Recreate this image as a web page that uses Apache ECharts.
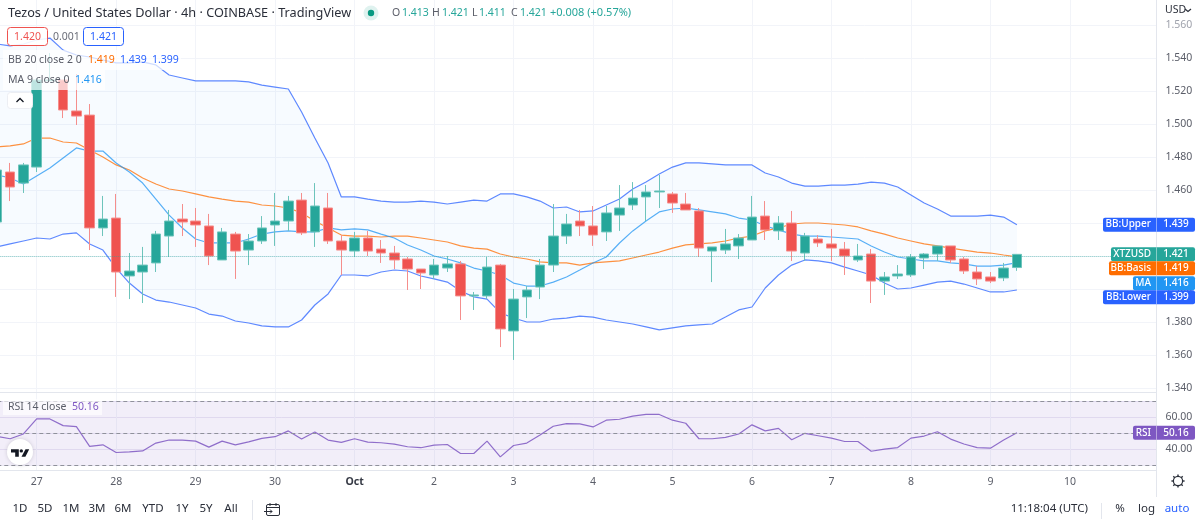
<!DOCTYPE html>
<html>
<head>
<meta charset="utf-8">
<style>html,body{margin:0;padding:0;background:#fff;overflow:hidden;width:1200px;height:524px;position:relative}#c{position:absolute;left:-10px;top:0;width:1210px;height:524px}</style>
<script src="https://cdn.jsdelivr.net/npm/echarts@6/dist/echarts.min.js"></script>
</head>
<body>
<div id="c"></div>
<script>
const dayNames = ['26','27','28','29','30','Oct','2','3','4','5','6','7','8','9','10','11'];
const barCount = 88;
const priceTicks = { min: 1.34, max: 1.56, step: 0.02 };
const opens = [1.4406,1.4709,1.4642,1.4739,1.5262,1.5267,1.5079,1.5054,1.4370,1.4430,1.4079,1.4103,1.4158,1.4321,1.4424,1.4412,1.4382,1.4176,1.4333,1.4236,1.4291,1.4388,1.4412,1.4539,1.4346,1.4491,1.4291,1.4230,1.4309,1.4242,1.4218,1.4182,1.4121,1.4085,1.4127,1.4152,1.3958,1.3958,1.4145,1.3746,1.3952,1.4012,1.4145,1.4321,1.4412,1.4382,1.4346,1.4448,1.4509,1.4558,1.4588,1.4576,1.4515,1.4473,1.4230,1.4236,1.4261,1.4297,1.4442,1.4352,1.4400,1.4218,1.4303,1.4273,1.4242,1.4176,1.4212,1.4048,1.4079,1.4085,1.4188,1.4212,1.4261,1.4182,1.4103,1.4073,1.4067,1.4130];
const closes = [1.4721,1.4618,1.4752,1.5267,1.5267,1.5085,1.5048,1.4370,1.4424,1.4103,1.4109,1.4145,1.4333,1.4412,1.4406,1.4388,1.4200,1.4346,1.4230,1.4291,1.4370,1.4412,1.4533,1.4340,1.4503,1.4291,1.4236,1.4309,1.4230,1.4218,1.4176,1.4121,1.4097,1.4145,1.4152,1.3958,1.3964,1.4133,1.3758,1.3939,1.3994,1.4145,1.4321,1.4394,1.4382,1.4327,1.4461,1.4491,1.4551,1.4588,1.4594,1.4521,1.4479,1.4248,1.4255,1.4273,1.4309,1.4436,1.4358,1.4400,1.4230,1.4321,1.4279,1.4248,1.4200,1.4200,1.4048,1.4073,1.4091,1.4194,1.4212,1.4261,1.4176,1.4109,1.4061,1.4048,1.4127,1.4210];
const lows = [1.4358,1.4533,1.4582,1.4709,1.5262,1.5036,1.4994,1.4236,1.4321,1.3952,1.3939,1.3915,1.4103,1.4194,1.4321,1.4255,1.4145,1.4176,1.4061,1.4145,1.4273,1.4261,1.4352,1.4327,1.4255,1.4273,1.4085,1.4194,1.4200,1.4158,1.4121,1.3994,1.4000,1.4061,1.4103,1.3812,1.3873,1.3939,1.3648,1.3570,1.3824,1.3939,1.4103,1.4273,1.4321,1.4261,1.4291,1.4352,1.4479,1.4412,1.4491,1.4461,1.4479,1.4194,1.4042,1.4212,1.4182,1.4297,1.4297,1.4297,1.4170,1.4170,1.4255,1.4170,1.4085,1.4164,1.3915,1.3964,1.4061,1.4073,1.4121,1.4170,1.4158,1.4091,1.4024,1.4036,1.4048,1.4110];
const highs = [1.4752,1.4764,1.4764,1.5279,1.5430,1.5267,1.5303,1.5121,1.4564,1.4576,1.4218,1.4255,1.4352,1.4479,1.4515,1.4491,1.4455,1.4370,1.4346,1.4333,1.4442,1.4582,1.4564,1.4582,1.4642,1.4582,1.4327,1.4346,1.4352,1.4297,1.4261,1.4194,1.4121,1.4182,1.4200,1.4170,1.3982,1.4194,1.4152,1.4000,1.4018,1.4182,1.4515,1.4455,1.4479,1.4503,1.4503,1.4630,1.4648,1.4630,1.4691,1.4588,1.4582,1.4491,1.4255,1.4364,1.4333,1.4564,1.4533,1.4442,1.4473,1.4340,1.4327,1.4364,1.4285,1.4273,1.4242,1.4103,1.4145,1.4212,1.4218,1.4261,1.4261,1.4194,1.4139,1.4103,1.4158,1.4210];
const bbUpper = [1.5485,1.5473,1.5485,1.5509,1.5521,1.5448,1.5418,1.5406,1.5388,1.5370,1.5370,1.5376,1.5358,1.5297,1.5279,1.5261,1.5261,1.5261,1.5261,1.5255,1.5236,1.5224,1.5212,1.5073,1.4915,1.4764,1.4558,1.4558,1.4545,1.4533,1.4527,1.4527,1.4533,1.4527,1.4515,1.4527,1.4539,1.4533,1.4576,1.4576,1.4558,1.4533,1.4491,1.4497,1.4467,1.4473,1.4509,1.4545,1.4606,1.4648,1.4697,1.4739,1.4764,1.4764,1.4758,1.4752,1.4752,1.4752,1.4703,1.4679,1.4642,1.4624,1.4624,1.4630,1.4630,1.4636,1.4648,1.4642,1.4618,1.4570,1.4521,1.4485,1.4442,1.4442,1.4442,1.4448,1.4436,1.4390];
const bbBasis = [1.4861,1.4867,1.4879,1.4915,1.4915,1.4891,1.4885,1.4842,1.4800,1.4752,1.4721,1.4673,1.4636,1.4606,1.4594,1.4576,1.4558,1.4545,1.4533,1.4527,1.4509,1.4503,1.4491,1.4461,1.4412,1.4370,1.4327,1.4321,1.4321,1.4315,1.4321,1.4321,1.4309,1.4297,1.4285,1.4261,1.4248,1.4242,1.4212,1.4194,1.4182,1.4164,1.4158,1.4158,1.4145,1.4158,1.4164,1.4170,1.4188,1.4206,1.4224,1.4248,1.4267,1.4273,1.4279,1.4291,1.4309,1.4321,1.4352,1.4370,1.4394,1.4400,1.4400,1.4394,1.4388,1.4376,1.4352,1.4333,1.4309,1.4291,1.4273,1.4261,1.4248,1.4236,1.4224,1.4218,1.4206,1.4195];
const bbLower = [1.4255,1.4273,1.4291,1.4309,1.4303,1.4333,1.4340,1.4273,1.4236,1.4127,1.4036,1.3970,1.3933,1.3921,1.3903,1.3885,1.3848,1.3836,1.3806,1.3794,1.3776,1.3770,1.3770,1.3812,1.3903,1.3970,1.4085,1.4085,1.4079,1.4103,1.4115,1.4109,1.4079,1.4061,1.4042,1.3988,1.3952,1.3939,1.3855,1.3824,1.3800,1.3800,1.3818,1.3824,1.3836,1.3830,1.3812,1.3800,1.3788,1.3770,1.3752,1.3764,1.3776,1.3782,1.3788,1.3830,1.3873,1.3891,1.4006,1.4085,1.4145,1.4176,1.4170,1.4158,1.4133,1.4109,1.4085,1.4036,1.4000,1.4006,1.4024,1.4042,1.4048,1.4030,1.4006,1.3982,1.3982,1.3994];
const maLine = [1.4691,1.4673,1.4636,1.4685,1.4733,1.4794,1.4855,1.4836,1.4836,1.4764,1.4709,1.4642,1.4545,1.4448,1.4370,1.4303,1.4279,1.4279,1.4279,1.4303,1.4333,1.4346,1.4352,1.4346,1.4346,1.4370,1.4358,1.4364,1.4358,1.4333,1.4309,1.4267,1.4236,1.4200,1.4182,1.4158,1.4127,1.4109,1.4085,1.4036,1.4018,1.4018,1.4042,1.4073,1.4115,1.4158,1.4194,1.4279,1.4352,1.4412,1.4467,1.4485,1.4491,1.4479,1.4467,1.4455,1.4430,1.4418,1.4382,1.4358,1.4333,1.4321,1.4321,1.4315,1.4309,1.4303,1.4261,1.4224,1.4194,1.4182,1.4170,1.4170,1.4158,1.4152,1.4139,1.4139,1.4145,1.4160];
const rsiLine = [47.9,46.4,49.4,58.8,58.8,54.6,54.0,41.6,42.6,37.8,38.2,38.8,43.7,45.6,45.6,44.9,41.2,44.9,42.6,44.5,46.6,47.7,51.3,46.2,50.6,45.6,44.1,46.4,44.3,43.9,43.1,41.4,40.8,42.4,42.8,37.2,37.2,44.9,35.1,42.2,43.7,48.7,54.2,55.9,55.7,53.8,58.0,58.6,60.5,61.6,61.6,58.0,56.1,46.4,46.4,47.3,49.4,55.1,51.3,52.9,45.8,49.8,48.3,46.8,44.7,44.7,38.6,39.9,40.9,46.8,48.1,50.8,46.2,43.1,40.9,40.5,45.6,50.16];
const lastValues = { price: 1.421, basis: 1.419, upper: 1.439, lower: 1.399, ma: 1.416, rsi: 50.16 };
const rangeButtons = ['1D','5D','1M','3M','6M','YTD','1Y','5Y','All'];

const FONT = '"Noto Sans", sans-serif';
const TEAL='#26a69a', RED='#ef5350', BLUE='#2962ff', ORANGE='#ff6d00', SKY='#2196f3', PURPLE='#7e57c2';
const GRAY='#5a5d68', GRID='#f2f4f9', SEP='#e3e6ed';

const categories = [];
for (let i=0;i<barCount;i++){
  const total = 12 + 4*i;
  categories.push(dayNames[Math.floor(total/24)] + ' ' + (total%24));
}
const isDay = i => i>=3 && i<=81 && (i-3)%6===0;
const candles = opens.map((o,i)=>[o,closes[i],lows[i],highs[i]]);
const bandHeight = bbUpper.map((u,i)=>+(u-bbLower[i]).toFixed(4));

const line = (name,data,color,extra)=>Object.assign({
  type:'line',name,data,xAxisIndex:0,yAxisIndex:0,symbol:'none',silent:true,z:3,
  lineStyle:{color,width:1.2,opacity:.75}
},extra||{});

const chart = echarts.init(document.getElementById('c'),null,{renderer:'canvas'});
// the chart box starts 10px left of the page so that the first bar can be cut by the page edge
const grids = {left:0.3,right:44};
chart.setOption({
  animation:false,
  backgroundColor:'#fff',
  textStyle:{fontFamily:FONT},
  grid:[
    Object.assign({top:25,height:363},grids),
    Object.assign({top:401,height:64},grids),
    Object.assign({top:0,height:470.5},grids)
  ],
  xAxis:[
    {gridIndex:0,type:'category',data:categories,show:false},
    {gridIndex:1,type:'category',data:categories,show:false},
    {gridIndex:2,type:'category',data:categories,
      axisLine:{show:false},axisTick:{show:false},
      splitLine:{show:true,alignWithLabel:true,interval:i=>isDay(i),lineStyle:{color:GRID,width:1}},
      axisLabel:{interval:i=>isDay(i),margin:6,fontSize:10.5,fontFamily:FONT,color:GRAY,
        formatter:v=>{const d=v.split(' ')[0];return d==='Oct'?'{b|Oct}':d;},
        rich:{b:{fontWeight:'bold',fontSize:10.5,color:'#363a45',fontFamily:FONT}}}}
  ],
  yAxis:[
    {gridIndex:0,type:'value',position:'right',min:priceTicks.min,max:priceTicks.max,interval:priceTicks.step,
      axisLine:{show:false},axisTick:{show:false},
      splitLine:{show:true,lineStyle:{color:GRID,width:1}},
      axisLabel:{margin:9.5,fontSize:10.5,fontFamily:FONT,
        color:v=>v>1.55?'#a0a3ad':GRAY,formatter:v=>v.toFixed(3)}},
    {gridIndex:1,type:'value',position:'right',min:30,max:70,interval:10,
      axisLine:{show:false},axisTick:{show:false},
      splitLine:{show:true,lineStyle:{color:'#ebe8f4',width:1}},
      axisLabel:{margin:9.5,fontSize:10.5,fontFamily:FONT,color:GRAY,
        formatter:v=>(v===40||v===60)?v.toFixed(2):''}},
    {gridIndex:2,type:'value',min:0,max:1,show:false}
  ],
  series:[
    {type:'line',name:'band base',data:bbLower,stack:'bb',symbol:'none',silent:true,z:2,lineStyle:{opacity:0}},
    {type:'line',name:'band fill',data:bandHeight,stack:'bb',symbol:'none',silent:true,z:2,lineStyle:{opacity:0},
      areaStyle:{color:'rgba(33,150,243,0.05)',origin:'auto'}},
    line('BB:Upper',bbUpper,BLUE),
    line('BB:Lower',bbLower,BLUE),
    line('BB:Basis',bbBasis,ORANGE),
    line('MA',maLine,SKY),
    {type:'candlestick',name:'XTZUSD',data:candles,xAxisIndex:0,yAxisIndex:0,barWidth:10,z:4,silent:true,
      itemStyle:{color:TEAL,color0:RED,borderColor:'#6dc4bb',borderColor0:'#f58e8c',borderWidth:1},
      markLine:{silent:true,symbol:'none',animation:false,label:{show:false},
        lineStyle:{color:TEAL,type:'dotted',width:1,opacity:.55},data:[{yAxis:lastValues.price}]}},
    {type:'line',name:'RSI',data:rsiLine,xAxisIndex:1,yAxisIndex:1,symbol:'none',silent:true,z:3,
      lineStyle:{color:PURPLE,width:1.2,opacity:.85},
      markArea:{silent:true,itemStyle:{color:'rgba(126,87,194,0.1)'},data:[[{yAxis:70},{yAxis:30}]]},
      markLine:{silent:true,symbol:'none',animation:false,label:{show:false},
        lineStyle:{color:'#8f919b',type:[4,3],width:1},data:[{yAxis:70},{yAxis:50},{yAxis:30}]}}
  ]
});

// overlay text and chrome
const Z=50;
const SMALL='10.5px '+FONT;
const T=(text,x,y,o)=>({type:'text',z:Z+2,silent:true,style:Object.assign({
  text,x,y,fill:GRAY,font:SMALL,textAlign:'left',textVerticalAlign:'middle'},o||{})});
const R=(x,y,w,h,fill,o)=>({type:'rect',z:Z,silent:true,shape:Object.assign({x,y,width:w,height:h},(o&&o.shape)||{}),
  style:Object.assign({fill},(o&&o.style)||{})});
const L=(x1,y1,x2,y2,color,w,z)=>({type:'line',z:z||Z-5,silent:true,shape:{x1,y1,x2,y2},style:{stroke:color,lineWidth:w||1}});
const P=(pts,stroke,w)=>({type:'polyline',z:Z+2,silent:true,shape:{points:pts},style:{stroke,lineWidth:w||1,fill:'none'}});
const yOf=v=>chart.convertToPixel({yAxisIndex:0},v);
const yR=v=>chart.convertToPixel({yAxisIndex:1},v);

const tag=(name,val,cy,color,xStart)=>[
  R(xStart,cy-7,1195-xStart,14,color,{shape:{r:2}}),
  L(1156.5,cy-7,1156.5,cy+7,'rgba(255,255,255,.45)',1,Z+1),
  T(name,1151,cy,{fill:'#fff',textAlign:'right',font:'500 10px '+FONT}),
  T(val,1176,cy,{fill:'#fff',textAlign:'center',font:'500 10px '+FONT})
];
const tagY=yOf(lastValues.price);
const DARK='#2a2e39';
const g=[
  L(0,392.5,1156,392.5,SEP,1),
  L(0,470.5,1156,470.5,SEP,1),
  L(1156.5,0,1156.5,497,SEP,1),
  L(252.5,500,252.5,520,SEP,1),
  L(1101.5,503,1101.5,519,SEP,1),
  // header
  T('Tezos / United States Dollar · 4h · COINBASE · TradingView',8,13,{fill:DARK,font:'12.7px '+FONT}),
  {type:'circle',z:Z,silent:true,shape:{cx:371,cy:13,r:7.5},style:{fill:'rgba(8,153,129,.13)'}},
  {type:'circle',z:Z,silent:true,shape:{cx:371,cy:13,r:3.2},style:{fill:'#089981'}},
  T('O',392,13),T('1.413',402,13,{fill:TEAL}),
  T('H',432,13),T('1.421',442,13,{fill:TEAL}),
  T('L',472,13),T('1.411',479,13,{fill:TEAL}),
  T('C',511,13),T('1.421',520,13,{fill:TEAL}),
  T('+0.008 (+0.57%)',550,13,{fill:TEAL,font:'11px '+FONT}),
  T('USD',1165,10,{fill:DARK}),
  P([[1185,9],[1188,11.5],[1191,9]],DARK,1.2),
  // bid / ask
  R(7.5,27.5,40,18,'rgba(255,255,255,.9)',{shape:{r:3},style:{stroke:RED,lineWidth:1}}),
  T('1.420',27.5,37,{fill:RED,textAlign:'center'}),
  T('0.001',53,37,{fill:'#6a6d78'}),
  R(83.5,27.5,40,18,'rgba(255,255,255,.9)',{shape:{r:3},style:{stroke:BLUE,lineWidth:1}}),
  T('1.421',103.5,37,{fill:BLUE,textAlign:'center'}),
  // study legends
  R(3,50,178,20,'rgba(255,255,255,.7)'),
  T('BB 20 close 2 0',8,60),
  T('1.419',88,60,{fill:ORANGE}),T('1.439',120,60,{fill:BLUE}),T('1.399',152,60,{fill:BLUE}),
  R(3,70,102,20,'rgba(255,255,255,.7)'),
  T('MA 9 close 0',8,80),
  T('1.416',75,80,{fill:SKY}),
  R(7.5,92.5,25,16,'#fff',{shape:{r:3},style:{stroke:'#eceef3',lineWidth:1}}),
  P([[16.5,102],[20,98.5],[23.5,102]],'#131722',1.3),
  // RSI legend
  R(3,399,99,16,'rgba(255,255,255,.65)'),
  T('RSI 14 close',8,407),
  T('50.16',72,407,{fill:PURPLE}),
  // logo
  {type:'circle',z:Z,silent:true,shape:{cx:20,cy:452,r:13},style:{fill:'#fff',shadowBlur:4,shadowColor:'rgba(0,0,0,.15)'}},
  {type:'polygon',z:Z+1,silent:true,shape:{points:[[11,449.3],[18.8,449.3],[18.8,456.7],[15.2,456.7],[15.2,452.4],[11,452.4]]},style:{fill:'#131722'}},
  {type:'circle',z:Z+1,silent:true,shape:{cx:21.3,cy:450.9,r:1.7},style:{fill:'#131722'}},
  {type:'polygon',z:Z+1,silent:true,shape:{points:[[25.5,449.3],[29.2,449.3],[25.4,456.7],[21.5,456.7]]},style:{fill:'#131722'}},
  // gear
  {type:'circle',z:Z,silent:true,shape:{cx:1178,cy:481,r:4.6},style:{fill:'none',stroke:DARK,lineWidth:1.2}},
  // bottom toolbar
  T('11:18:04 (UTC)',1088,509,{textAlign:'right',fill:DARK,font:'11.5px '+FONT}),
  T('%',1120,509,{textAlign:'center',fill:DARK,font:'11.5px '+FONT}),
  T('log',1146.5,509,{textAlign:'center',fill:DARK,font:'11.5px '+FONT}),
  T('auto',1177,509,{textAlign:'center',fill:BLUE,font:'11.5px '+FONT}),
  // calendar icon
  R(266.5,504.5,13,11,'none',{shape:{r:1.5},style:{stroke:DARK,lineWidth:1}}),
  L(266.5,507.5,279.5,507.5,DARK,1,Z+2),
  L(270,503,270,506,DARK,1,Z+2),L(276,503,276,506,DARK,1,Z+2),
  P([[264,511.5],[272,511.5]],DARK,1),P([[270,509.5],[272,511.5],[270,513.5]],DARK,1)
];
for(let a=0;a<8;a++){
  const c=Math.cos(a*Math.PI/4),s=Math.sin(a*Math.PI/4);
  g.push(L(1178+c*4.6,481+s*4.6,1178+c*6.6,481+s*6.6,DARK,1.4,Z+2));
}
const btnX=[20,45,71,97,123,153,182,206,231];
rangeButtons.forEach((b,i)=>g.push(T(b,btnX[i],509,{textAlign:'center',fill:DARK,font:'11.5px '+FONT})));
g.push(...tag('BB:Upper',lastValues.upper.toFixed(3),yOf(lastValues.upper),BLUE,1103));
g.push(...tag('XTZUSD',lastValues.price.toFixed(3),tagY,TEAL,1111));
g.push(...tag('BB:Basis',lastValues.basis.toFixed(3),tagY+14,ORANGE,1109));
g.push(...tag('MA',lastValues.ma.toFixed(3),tagY+29,SKY,1133));
g.push(...tag('BB:Lower',lastValues.lower.toFixed(3),yOf(lastValues.lower)+6.5,BLUE,1103));
g.push(...tag('RSI',lastValues.rsi.toFixed(2),yR(lastValues.rsi),PURPLE,1133));
chart.setOption({graphic:{elements:[{type:'group',x:10,y:0,children:g}]}});
</script>
</body>
</html>
